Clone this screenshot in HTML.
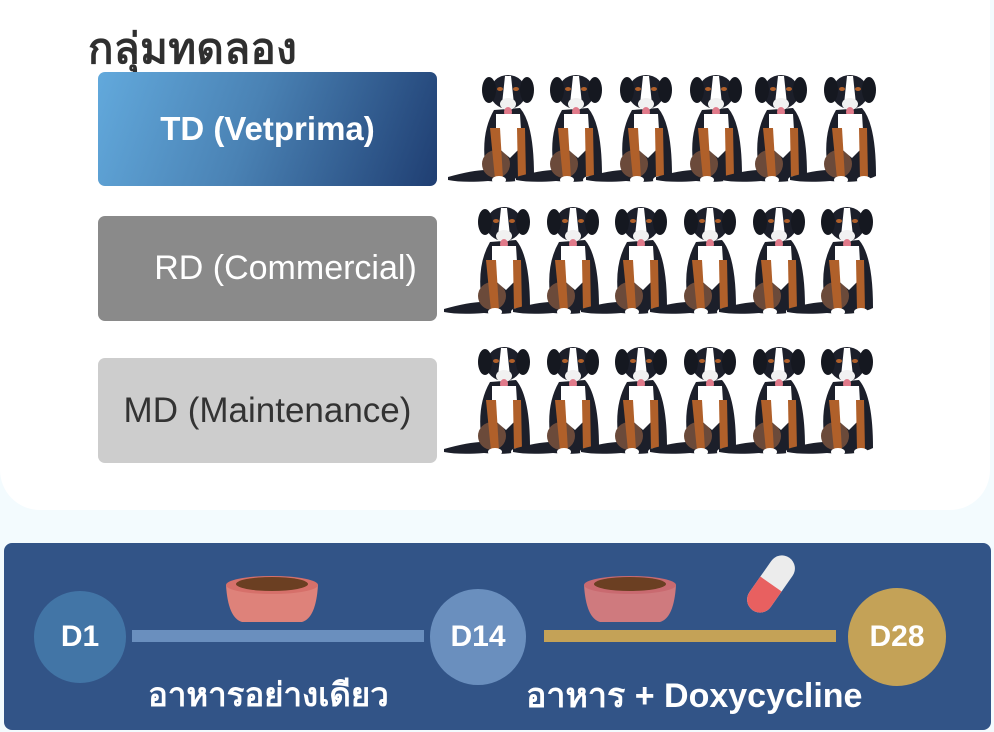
<!DOCTYPE html>
<html><head><meta charset="utf-8"><style>
*{margin:0;padding:0;box-sizing:border-box}
body{width:994px;height:732px;background:#f3fbfe;position:relative;overflow:hidden;font-family:"Liberation Sans",sans-serif}
.card{position:absolute;left:0;top:-20px;width:990px;height:530px;background:#fff;border-radius:0 0 40px 40px}
.title{position:absolute;left:88px;top:16px;font-size:42px;font-weight:bold;color:#2f2f2f;letter-spacing:0.5px}
.box{position:absolute;left:98px;width:339px;border-radius:7px;display:flex;align-items:center;justify-content:center;font-size:33px;white-space:nowrap}
.panel{position:absolute;left:4px;top:543px;width:987px;height:187px;background:#325487;border-radius:8px}
.c{position:absolute;border-radius:50%;color:#fff;font-weight:bold;font-size:30px;display:flex;align-items:center;justify-content:center}
.lab{position:absolute;color:#fff;font-weight:bold;white-space:nowrap}
</style></head><body>
<div class="card"></div>
<div class="title">กลุ่มทดลอง</div>
<div class="box" style="top:72px;height:114px;background:linear-gradient(110deg,#62a9dc,#4a82b4 45%,#1f3e72);color:#fff;font-weight:bold;font-size:33px">TD (Vetprima)</div>
<div class="box" style="top:216px;height:105px;background:#8a8a8a;color:#fff;padding-left:36px;font-size:34px">RD (Commercial)</div>
<div class="box" style="top:358px;height:105px;background:#cdcdcd;color:#333;font-size:35px;padding-left:0">MD (Maintenance)</div>
<svg width="994" height="732" style="position:absolute;left:0;top:0">
<defs>
<g id="dog">
<path d="M-60 93 Q-35 86 -22 86 Q-28 50 -14 26 L12 24 Q26 40 26 92 Q10 100 -20 97 Q-45 99 -60 96Z" fill="#1c1f2a"/>
<ellipse cx="-12" cy="80" rx="14" ry="14" fill="#6b4a3a"/>
<ellipse cx="0" cy="8" rx="18" ry="17" fill="#1c1f2a"/>
<ellipse cx="-19" cy="6" rx="7" ry="13" fill="#151820"/>
<ellipse cx="19" cy="6" rx="7" ry="13" fill="#151820"/>
<path d="M-3 -8 L3 -8 L6 20 L-6 20Z" fill="#fff"/>
<ellipse cx="0" cy="20" rx="8" ry="6" fill="#f1f1f1"/>
<ellipse cx="0" cy="28" rx="4" ry="5" fill="#e07a8a"/>
<path d="M-12 30 L12 30 L14 62 L2 74 L-12 62Z" fill="#fff"/>
<path d="M-18 44 L-8 44 L-5 95 L-13 95Z" fill="#b0602a"/>
<path d="M9 44 L17 44 L18 95 L10 95Z" fill="#b0602a"/>
<ellipse cx="-9" cy="96" rx="7" ry="4" fill="#fff"/>
<ellipse cx="14" cy="96" rx="7" ry="4" fill="#fff"/>
<ellipse cx="-8" cy="5" rx="3" ry="2" fill="#b0602a"/>
<ellipse cx="8" cy="5" rx="3" ry="2" fill="#b0602a"/>
</g>
</defs>
<g transform="translate(0,84)">
<use href="#dog" x="508"/><use href="#dog" x="576"/><use href="#dog" x="646"/><use href="#dog" x="716"/><use href="#dog" x="781"/><use href="#dog" x="850"/>
</g>
<g transform="translate(0,216)">
<use href="#dog" x="504"/><use href="#dog" x="573"/><use href="#dog" x="641"/><use href="#dog" x="710"/><use href="#dog" x="779"/><use href="#dog" x="847"/>
</g>
<g transform="translate(0,356)">
<use href="#dog" x="504"/><use href="#dog" x="573"/><use href="#dog" x="641"/><use href="#dog" x="710"/><use href="#dog" x="779"/><use href="#dog" x="847"/>
</g>
</svg>
<div class="panel"></div>
<svg width="994" height="732" style="position:absolute;left:0;top:0">
<rect x="132" y="630" width="292" height="12" fill="#6a8fbe"/>
<rect x="544" y="630" width="292" height="12" fill="#c4a257"/>
<g>
<path d="M226 585 L318 585 Q316 618 302 622 L242 622 Q228 618 226 585Z" fill="#de827a"/>
<ellipse cx="272" cy="585" rx="46" ry="9" fill="#d6706a"/>
<ellipse cx="272" cy="584" rx="36" ry="7" fill="#6b3f22"/>
</g>
<g>
<path d="M584 585 L676 585 Q674 618 660 622 L600 622 Q586 618 584 585Z" fill="#cf7a7e"/>
<ellipse cx="630" cy="585" rx="46" ry="9" fill="#c96a70"/>
<ellipse cx="630" cy="584" rx="36" ry="7" fill="#6b3f22"/>
</g>
<g transform="translate(771,584) rotate(35)">
<rect x="-13" y="-32" width="26" height="64" rx="13" fill="#ececec"/>
<path d="M-13 0 L13 0 L13 19 A13 13 0 0 1 -13 19Z" fill="#e86060"/>
</g>
</svg>
<div class="c" style="left:34px;top:591px;width:92px;height:92px;background:#4275a6">D1</div>
<div class="c" style="left:430px;top:589px;width:96px;height:96px;background:#6a8fbe">D14</div>
<div class="c" style="left:848px;top:588px;width:98px;height:98px;background:#c4a257">D28</div>
<div class="lab" style="left:148px;top:668px;font-size:33px">อาหารอย่างเดียว</div>
<div class="lab" style="left:526px;top:668px;font-size:34px">อาหาร + Doxycycline</div>
</body></html>
